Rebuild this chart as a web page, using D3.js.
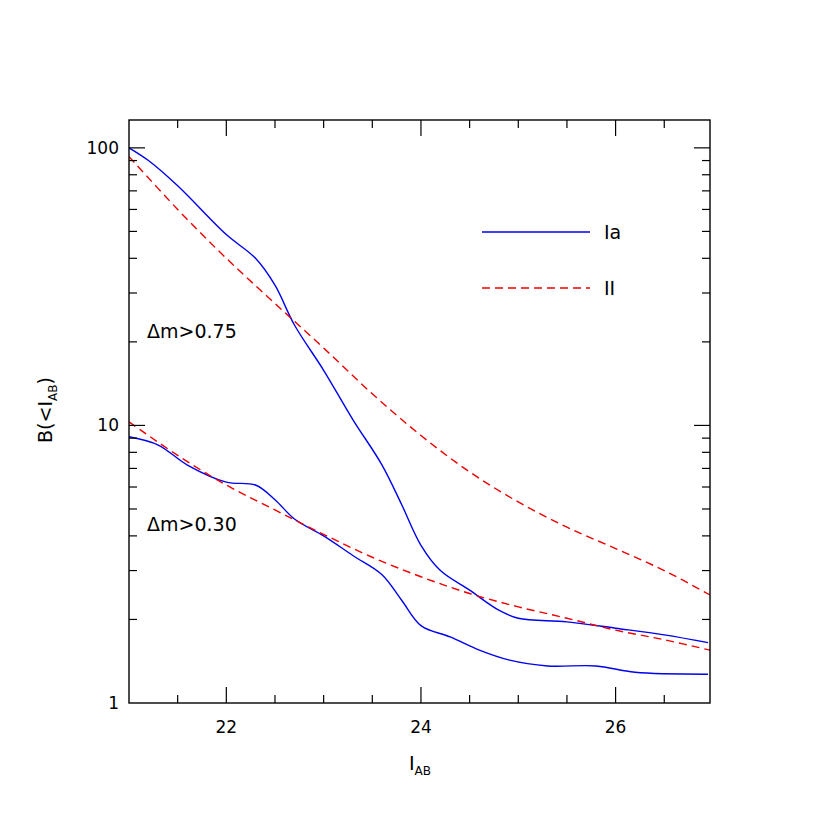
<!DOCTYPE html>
<html><head><meta charset="utf-8">
<script src="https://cdn.jsdelivr.net/npm/d3@7"></script>
<style>body{margin:0;background:#fff}text{font-family:"DejaVu Sans",sans-serif;fill:#000}</style>
</head><body><svg id="c" width="830" height="830"></svg>
<script>
var iaUpperX = [21, 21.2, 21.5, 22, 22.3, 22.5, 22.7, 23, 23.3, 23.6, 23.8, 24, 24.2, 24.5, 24.8, 25, 25.5, 26, 26.5, 26.95];
var iaUpperY = [100, 90, 73, 48.7, 40, 32, 23, 15.8, 10.5, 7.2, 5.2, 3.7, 3.0, 2.55, 2.16, 2.02, 1.96, 1.86, 1.76, 1.65];
var iaLowerX = [21, 21.3, 21.6, 22, 22.3, 22.5, 22.7, 23, 23.3, 23.6, 23.8, 24, 24.3, 24.6, 24.9, 25.3, 25.8, 26.2, 26.95];
var iaLowerY = [9.1, 8.5, 7.2, 6.25, 6.1, 5.4, 4.6, 4.0, 3.4, 2.9, 2.35, 1.9, 1.73, 1.55, 1.43, 1.36, 1.36, 1.29, 1.27];
var iiX = [21, 21.5, 22, 22.5, 23, 23.5, 24, 24.5, 25, 25.5, 26, 26.5, 26.97];
var iiUpperY = [93, 60, 40, 27.5, 19, 13, 9.2, 6.8, 5.3, 4.3, 3.6, 3.0, 2.45];
var iiLowerY = [10.3, 7.8, 6.1, 4.96, 4.05, 3.35, 2.85, 2.48, 2.22, 2.02, 1.83, 1.69, 1.55];
var xLabels = [22, 24, 26];
var yLabels = [1, 10, 100];

var L = 129, R = 710, T = 120, B = 703;
var svg = d3.select("#c");
var x = d3.scaleLinear().domain([21, 26.97]).range([L, R]);
var y = d3.scaleLog().domain([1, 126]).range([B, T]);

svg.append("clipPath").attr("id", "cp").append("rect")
	.attr("x", L).attr("y", T).attr("width", R - L).attr("height", B - T);

function zip(xs, ys) { return xs.map(function(d, i) { return [d, ys[i]]; }); }
var line = d3.line().x(function(d) { return x(d[0]); }).y(function(d) { return y(d[1]); }).curve(d3.curveCatmullRom);
var g = svg.append("g").attr("clip-path", "url(#cp)");
[[iaUpperX, iaUpperY], [iaLowerX, iaLowerY]].forEach(function(s) {
	g.append("path").attr("d", line(zip(s[0], s[1]))).attr("fill", "none").attr("stroke", "#0000ee").attr("stroke-width", 1.4);
});
[iiUpperY, iiLowerY].forEach(function(s) {
	g.append("path").attr("d", line(zip(iiX, s))).attr("fill", "none").attr("stroke", "#ee0000").attr("stroke-width", 1.4).attr("stroke-dasharray", "8,5");
});

// frame + inward ticks
svg.append("rect").attr("x", L).attr("y", T).attr("width", R - L).attr("height", B - T).attr("fill", "none").attr("stroke", "#000").attr("stroke-width", 1.4);
var ax = svg.append("g").attr("stroke", "#000").attr("stroke-width", 1.2);
d3.range(21.5, 27, 0.5).forEach(function(v) {
	var len = (v % 2 === 0) ? 16 : 8;
	ax.append("line").attr("x1", x(v)).attr("x2", x(v)).attr("y1", B).attr("y2", B - len);
	ax.append("line").attr("x1", x(v)).attr("x2", x(v)).attr("y1", T).attr("y2", T + len);
});
[1, 10, 100].forEach(function(dec) {
	for (var k = 1; k <= 9; k++) {
		var v = dec * k;
		if (v > 126 || v <= 1) continue;
		var len = (k === 1) ? 16 : 8;
		ax.append("line").attr("x1", L).attr("x2", L + len).attr("y1", y(v)).attr("y2", y(v));
		ax.append("line").attr("x1", R).attr("x2", R - len).attr("y1", y(v)).attr("y2", y(v));
	}
});
xLabels.forEach(function(v) {
	svg.append("text").attr("x", x(v)).attr("y", B + 30).attr("text-anchor", "middle").style("font-size", "17px").text(v);
});
yLabels.forEach(function(v) {
	svg.append("text").attr("x", L - 10).attr("y", y(v) + 6).attr("text-anchor", "end").style("font-size", "17px").text(v);
});

// axis titles
var xt = svg.append("text").attr("x", 420).attr("y", 770).attr("text-anchor", "middle").style("font-size", "19px");
xt.append("tspan").text("I");
xt.append("tspan").attr("dy", 5).style("font-size", "12px").text("AB");
var yt = svg.append("text").attr("transform", "translate(52,410) rotate(-90)").attr("text-anchor", "middle").style("font-size", "19px");
yt.append("tspan").text("B(<I");
yt.append("tspan").attr("dy", 5).style("font-size", "12px").text("AB");
yt.append("tspan").attr("dy", -5).text(")");

// legend
svg.append("line").attr("x1", 482).attr("x2", 590).attr("y1", 232).attr("y2", 232).attr("stroke", "#0000ee").attr("stroke-width", 1.4);
svg.append("text").attr("x", 604).attr("y", 239).style("font-size", "19px").text("Ia");
svg.append("line").attr("x1", 482).attr("x2", 590).attr("y1", 288).attr("y2", 288).attr("stroke", "#ee0000").attr("stroke-width", 1.4).attr("stroke-dasharray", "8,5");
svg.append("text").attr("x", 604).attr("y", 295).style("font-size", "19px").text("II");

svg.append("text").attr("x", 147).attr("y", 338).style("font-size", "19px").text("Δm>0.75");
svg.append("text").attr("x", 147).attr("y", 531).style("font-size", "19px").text("Δm>0.30");
</script></body></html>
